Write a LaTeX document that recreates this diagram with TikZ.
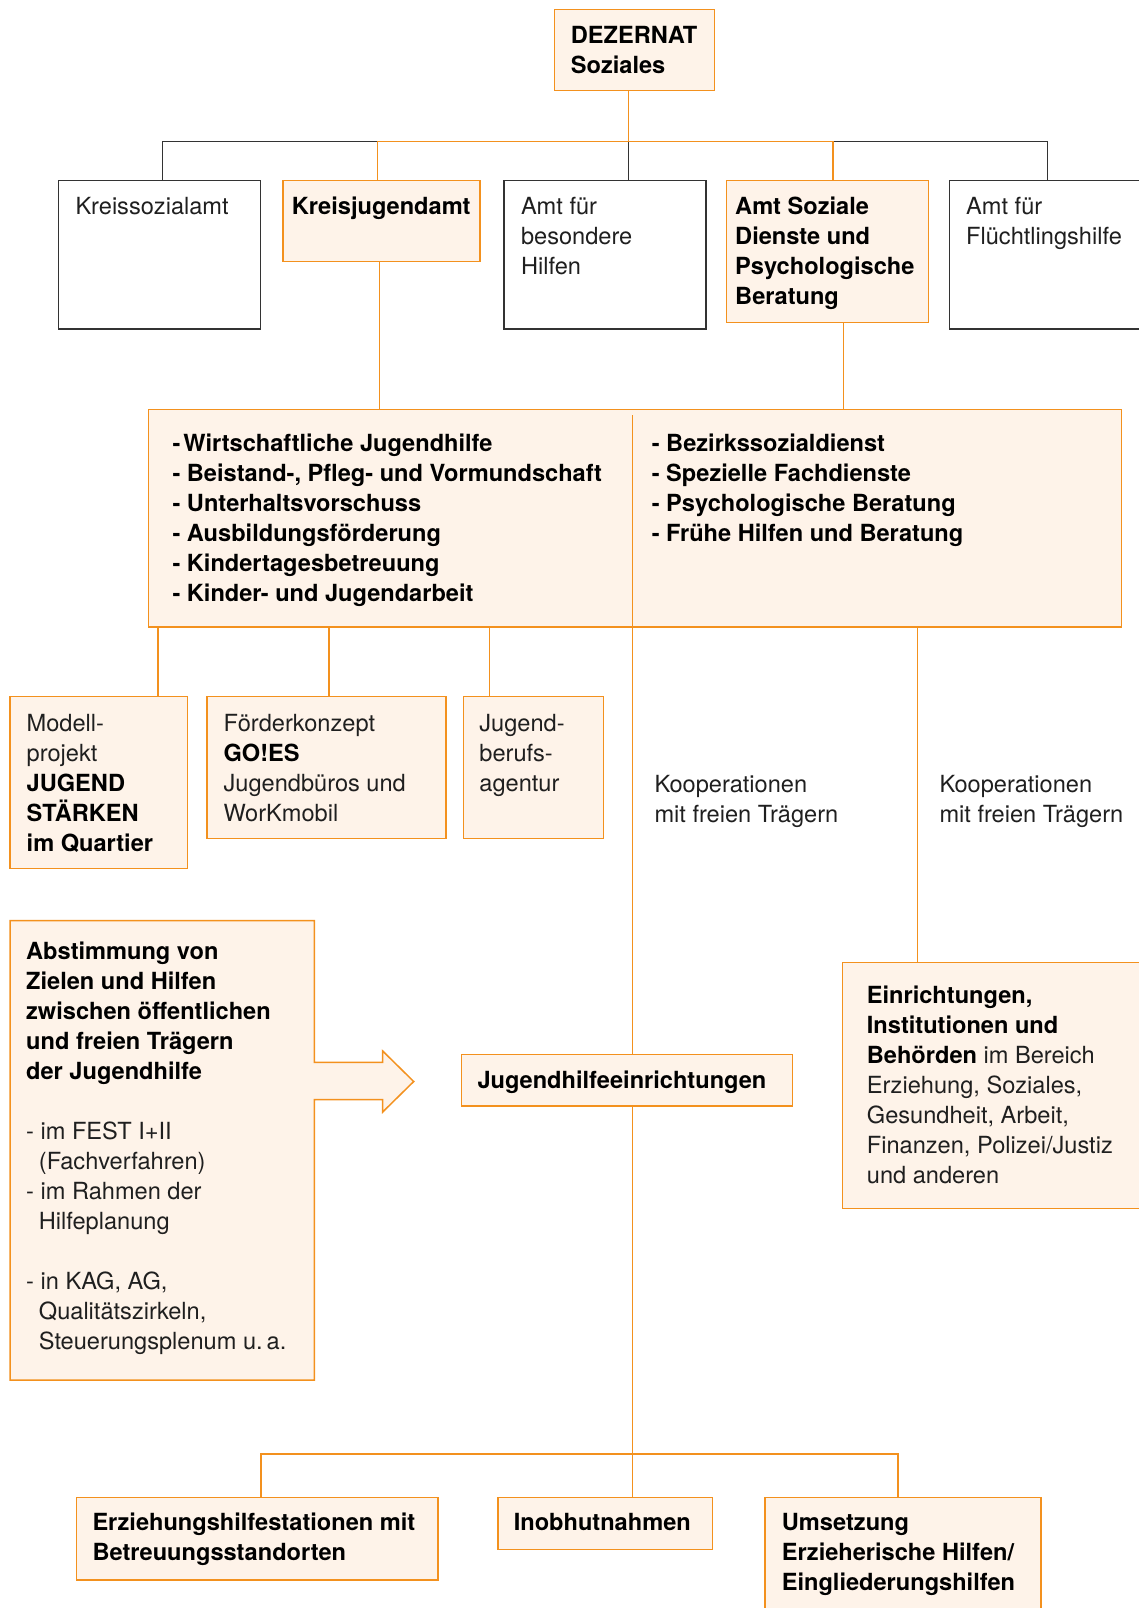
\documentclass[tikz,border=0pt]{standalone}
\usepackage{fontspec}
\setmainfont{TeX Gyre Heros}
\usetikzlibrary{fit}
\definecolor{org}{RGB}{243,145,30}
\definecolor{pale}{RGB}{254,243,233}
% left-aligned multi-line block whose baseline is the first line
\newcommand{\ml}[1]{\begin{tabular}[t]{@{}l@{}}#1\end{tabular}}
\newcommand{\ind}{\hspace*{12.7pt}}

\tikzset{
  obox/.style={draw=org, fill=pale, line width=1.5pt, inner sep=0pt},
  kbox/.style={draw=black!80, fill=white, line width=1.3pt, inner sep=0pt},
  txt/.style={anchor=base west, inner sep=0pt, font=\fontsize{23.6}{30}\selectfont, text=black!88},
  btxt/.style={txt, font=\fontsize{23.6}{30}\selectfont\bfseries, text=black},
  oline/.style={draw=org, line width=1.5pt},
  kline/.style={draw=black!80, line width=1.3pt},
}

\begin{document}
\begin{tikzpicture}[x=1pt, y=-1pt]
\useasboundingbox (0,0) rectangle (1139,1608);
\clip (0,0) rectangle (1139,1608);

% ---------- boxes ----------
\node[obox, fit={(554.5,9.3) (714.7,90.3)}] (dez) {};
\node[kbox, fit={(58.7,180.3) (260.3,329)}] (kso) {};
\node[obox, fit={(283,180.3) (480,261.7)}] (kju) {};
\node[kbox, fit={(504,180.3) (706,329)}] (abh) {};
\node[obox, fit={(726.7,180.3) (928.5,322.3)}] (asd) {};
\node[kbox, fit={(949.5,180.3) (1170,329)}] (afh) {};
\node[obox, fit={(148.5,409.5) (1121.7,627)}] (big) {};
\node[obox, fit={(10,696.7) (187.3,868.3)}] (mod) {};
\node[obox, fit={(207,696.7) (446,838.3)}] (foe) {};
\node[obox, fit={(463.4,696.7) (603.5,838.3)}] (jba) {};
\node[obox, fit={(461.7,1054.3) (792.3,1106)}] (jhe) {};
\node[obox, fit={(842.3,962.3) (1170,1208.7)}] (ein) {};
\node[obox, fit={(76.5,1497.7) (438,1580)}] (ezh) {};
\node[obox, fit={(498,1497.7) (712.6,1549.5)}] (inob) {};
\node[obox, fit={(765,1497.7) (1041,1650)}] (ums) {};

% box with its arrow pointing right
\draw[obox, line join=miter] (10,920.7) -- (314.3,920.7) -- (314.3,1062.3)
  -- (382.7,1062.3) -- (382.7,1051) -- (413.7,1081.5) -- (382.7,1112)
  -- (382.7,1099.5) -- (314.3,1099.5) -- (314.3,1380) -- (10,1380) -- cycle;

% ---------- connectors ----------
\coordinate (bA) at (162.7,141.7);
\coordinate (bB) at (377.7,141.7);
\coordinate (bC) at (628.7,141.7);
\coordinate (bD) at (833,141.7);
\coordinate (bE) at (1047.5,141.7);
\draw[kline] (kso.north -| bA) -- (bA) -- (bB);
\draw[kline] (bD) -- (bE) -- (afh.north -| bE);
\draw[kline] (bC) -- (abh.north -| bC);
\draw[oline] (kju.north -| bB) -- (bB) -- (bD) -- (asd.north -| bD);
\draw[oline] (dez.south -| bC) -- (bC);

\coordinate (xK) at (379.3,0);
\coordinate (xA) at (843.6,0);
\draw[oline] (kju.south -| xK) -- (big.north -| xK);
\draw[oline] (asd.south -| xA) -- (big.north -| xA);

\coordinate (x1) at (158.2,0);
\coordinate (x2) at (329,0);
\coordinate (x3) at (489.5,0);
\coordinate (x4) at (917.3,0);
\draw[oline] (big.south -| x1) -- (mod.north -| x1);
\draw[oline] (big.south -| x2) -- (foe.north -| x2);
\draw[oline] (big.south -| x3) -- (jba.north -| x3);
\draw[oline] (big.south -| x4) -- (ein.north -| x4);

\coordinate (dv) at (632.5,415);
\draw[oline] (dv) -- (jhe.north -| dv);

\coordinate (cL) at (260.8,1454);
\coordinate (cM) at (632.5,1454);
\coordinate (cR) at (897.9,1454);
\draw[oline] (jhe.south -| cM) -- (cM);
\draw[oline] (ezh.north -| cL) -- (cL) -- (cR) -- (ums.north -| cR);
\draw[oline] (cM) -- (inob.north -| cM);

% ---------- texts ----------
\node[btxt] (tdez) at (570.7,43.2) {\ml{DEZERNAT\\Soziales}};
\node[txt]  (tkso) at (75.3,214.5) {\ml{Kreissozialamt}};
\node[btxt] (tkju) at (291.7,214.5) {\ml{Kreisjugendamt}};
\node[txt]  (tabh) at (520.8,214.5) {\ml{Amt für\\besondere\\Hilfen}};
\node[btxt] (tasd) at (735,214.5) {\ml{Amt Soziale\\Dienste und\\Psychologische\\Beratung}};
\node[txt]  (tafh) at (966,214.5) {\ml{Amt für\\Flüchtlingshilfe}};

\node[btxt] (tbl) at (172.3,451.2) {\ml{-\hspace{3pt}Wirtschaftliche Jugendhilfe\\
  - Beistand-, Pfleg- und Vormundschaft\\
  - Unterhaltsvorschuss\\
  - Ausbildungsförderung\\
  - Kindertagesbetreuung\\
  - Kinder- und Jugendarbeit}};
\node[btxt] (tbr) at (651.6,451.2) {\ml{- Bezirkssozialdienst\\
  - Spezielle Fachdienste\\
  - Psychologische Beratung\\
  - Frühe Hilfen und Beratung}};

\node[txt] (tmod) at (26.5,731.2) {\ml{Modell-\\projekt\\\textbf{\color{black}JUGEND}\\\textbf{\color{black}STÄRKEN}\\\textbf{\color{black}im Quartier}}};
\node[txt] (tfoe) at (223.4,731.2) {\ml{Förderkonzept\\\textbf{\color{black}GO!ES}\\Jugendbüros und\\WorKmobil}};
\node[txt] (tjba) at (479.2,731.2) {\ml{Jugend-\\berufs-\\agentur}};

\node[txt] (tk1) at (654.3,792.2) {\ml{Kooperationen\\mit freien Trägern}};
\node[txt] (tk2) at (939.3,792.2) {\ml{Kooperationen\\mit freien Trägern}};

\node[txt] (tabs) at (26,959.8) {\ml{\textbf{\color{black}Abstimmung von}\\
  \textbf{\color{black}Zielen und Hilfen}\\
  \textbf{\color{black}zwischen öffentlichen}\\
  \textbf{\color{black}und freien Trägern}\\
  \textbf{\color{black}der Jugendhilfe}\\
  \\
  - im FEST I+II\\
  \ind(Fachverfahren)\\
  - im Rahmen der\\
  \ind Hilfeplanung\\
  \\
  - in KAG, AG,\\
  \ind Qualitätszirkeln,\\
  \ind Steuerungsplenum u.\,a.}};

\node[btxt] (tjhe) at (477.3,1088.8) {\ml{Jugendhilfeeinrichtungen}};

\node[txt] (tein) at (866.7,1003.8) {\ml{\textbf{\color{black}Einrichtungen,}\\
  \textbf{\color{black}Institutionen und}\\
  \textbf{\color{black}Behörden} im Bereich\\
  Erziehung, Soziales,\\
  Gesundheit, Arbeit,\\
  Finanzen, Polizei/Justiz\\
  und anderen}};

\node[btxt] (tezh) at (92.3,1530.5) {\ml{Erziehungshilfestationen mit\\Betreuungsstandorten}};
\node[btxt] (tinob) at (513.6,1530.5) {\ml{Inobhutnahmen}};
\node[btxt] (tums) at (781.6,1530.5) {\ml{Umsetzung\\Erzieherische Hilfen/\\Eingliederungshilfen}};
\end{tikzpicture}
\end{document}
